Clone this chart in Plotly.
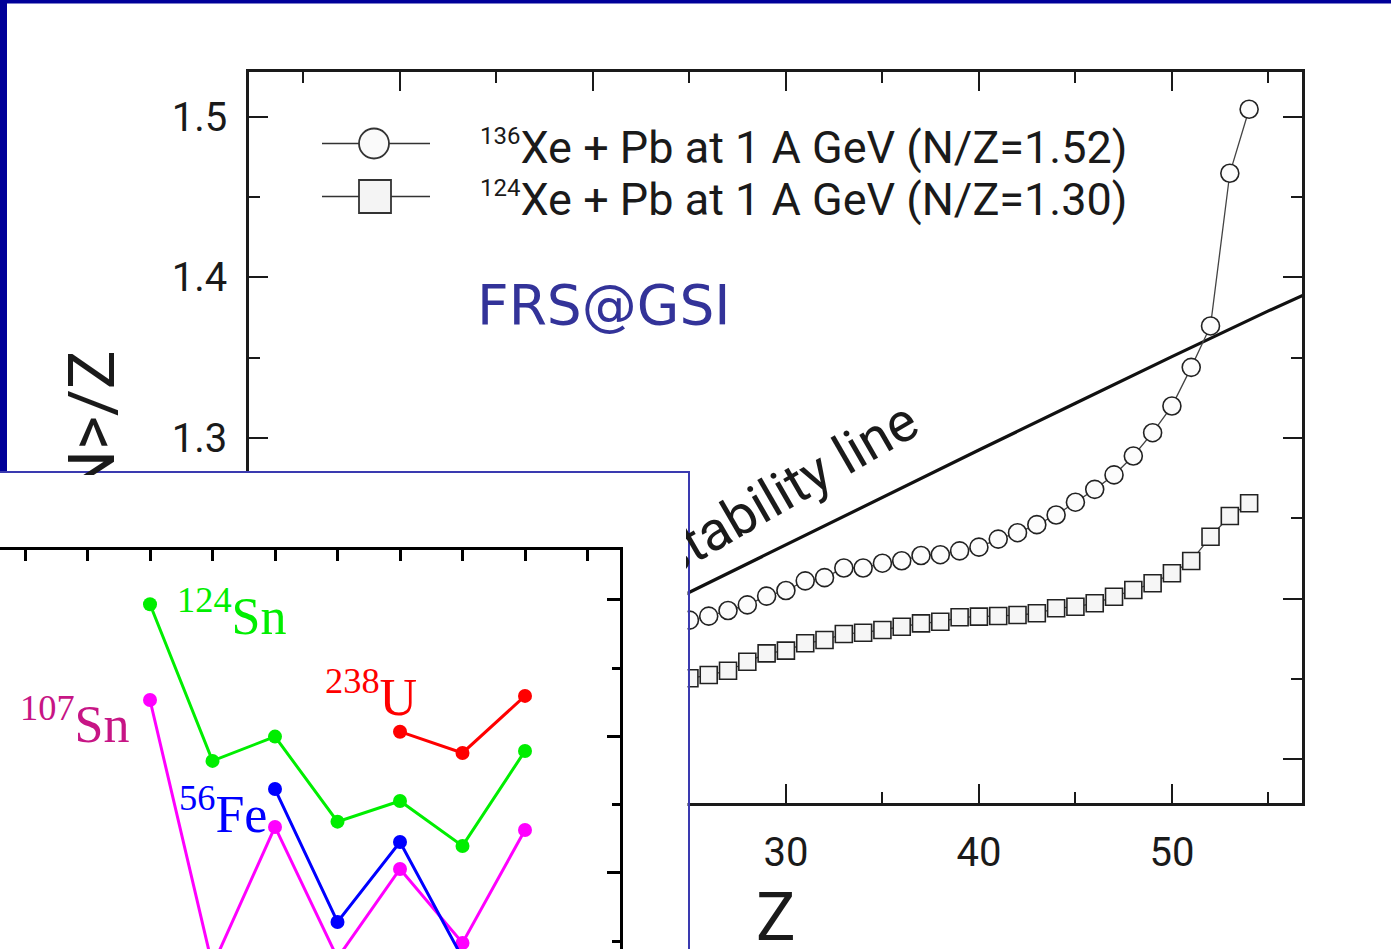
import plotly.graph_objects as go

W, H = 1391, 949

# ---------------- main chart data ----------------
z_xe136 = list(range(25, 55))
nz_xe136 = [1.1865, 1.189, 1.1925, 1.196, 1.2015, 1.205, 1.211, 1.213, 1.219, 1.219,
            1.222, 1.2235, 1.2268, 1.2273, 1.2297, 1.232, 1.237, 1.241, 1.246, 1.252,
            1.260, 1.268, 1.277, 1.2888, 1.3033, 1.3199, 1.344, 1.3698, 1.4649, 1.5048]
z_xe124 = list(range(25, 55))
nz_xe124 = [1.1503, 1.1523, 1.155, 1.1606, 1.1658, 1.1675, 1.1721, 1.1741, 1.1779, 1.1787,
            1.1804, 1.1824, 1.1845, 1.1855, 1.1883, 1.1887, 1.1891, 1.1897, 1.1908, 1.1939,
            1.1949, 1.197, 1.2011, 1.2053, 1.2095, 1.2157, 1.2234, 1.2385, 1.2514, 1.2593]
z_stab = [24, 30, 35, 40, 45, 50, 55, 57]
nz_stab = [1.198, 1.2335, 1.263, 1.2925, 1.3216, 1.3507, 1.3792, 1.390]

# tick labels (those under the inset are not visible in the picture)
x_tickvals = [10, 20, 30, 40, 50]
x_ticktext = ["", "", "30", "40", "50"]
y_tickvals = [1.1, 1.2, 1.3, 1.4, 1.5]
y_ticktext = ["", "", "1.3", "1.4", "1.5"]

legend_labels = ["<sup><span style='font-size:24px'>136</span></sup>Xe + Pb at 1 A GeV (N/Z=1.52)",
                 "<sup><span style='font-size:24px'>124</span></sup>Xe + Pb at 1 A GeV (N/Z=1.30)"]

# ---------------- inset data ----------------
inset_x = [1, 2, 3, 4, 5, 6, 7]
sn124 = [2.969, 1.821, 1.999, 1.376, 1.527, 1.198, 1.894]
sn107 = [2.267, 0.319, 1.337, 0.377, 1.029, 0.487, 1.315]
fe56_x = [3, 4, 5, 6]
fe56 = [1.615, 0.641, 1.227, 0.377]
u238_x = [5, 6, 7]
u238 = [2.035, 1.879, 2.297]


def px(x):
    return x / W


def py(y):
    return 1 - y / H


fig = go.Figure()

# main chart traces
fig.add_trace(go.Scatter(x=z_stab, y=nz_stab, mode="lines",
                         line=dict(color="#111111", width=3.2), hoverinfo="skip"))
fig.add_trace(go.Scatter(x=z_xe136, y=nz_xe136, mode="lines+markers",
                         line=dict(color="#444444", width=1.3),
                         marker=dict(symbol="circle", size=18, color="#fcfcfc",
                                     line=dict(color="#222222", width=1.6)),
                         hoverinfo="skip"))
fig.add_trace(go.Scatter(x=z_xe124, y=nz_xe124, mode="lines+markers",
                         line=dict(color="#444444", width=1.3),
                         marker=dict(symbol="square", size=17, color="#f6f6f6",
                                     line=dict(color="#222222", width=1.6)),
                         hoverinfo="skip"))

# inset frame subplot (empty)
fig.add_trace(go.Scatter(x=[None], y=[None], xaxis="x2", yaxis="y2", hoverinfo="skip"))

# inset traces
def inset_trace(x, y, color):
    return go.Scatter(x=x, y=y, xaxis="x3", yaxis="y3", mode="lines+markers",
                      line=dict(color=color, width=3),
                      marker=dict(symbol="circle", size=14, color=color),
                      hoverinfo="skip")

fig.add_trace(inset_trace(inset_x, sn124, "#00EE00"))
fig.add_trace(inset_trace(inset_x, sn107, "#FF00FF"))
fig.add_trace(inset_trace(fe56_x, fe56, "#0000FF"))
fig.add_trace(inset_trace(u238_x, u238, "#FF0000"))

tickfont = dict(family="Roboto", size=40, color="#1a1a1a")
axcol = "#1a1a1a"

fig.update_layout(
    width=W, height=H, margin=dict(l=0, r=0, t=0, b=0),
    paper_bgcolor="white", plot_bgcolor="white", showlegend=False,
    hovermode=False,
    xaxis=dict(domain=[px(249), px(1302)], range=[2.18, 56.74], anchor="y",
               showline=True, linecolor=axcol, linewidth=2.5, mirror="ticks",
               ticks="inside", ticklen=19, tickwidth=2.2, tickcolor=axcol,
               tickvals=x_tickvals, ticktext=x_ticktext, showgrid=False, zeroline=False,
               minor=dict(ticks="inside", dtick=5, tick0=0, ticklen=11, tickwidth=2.2, tickcolor=axcol),
               tickfont=tickfont, ticklabelstandoff=12),
    yaxis=dict(domain=[py(803), py(72)], range=[1.0726, 1.528], anchor="x",
               showline=True, linecolor=axcol, linewidth=2.5, mirror="ticks",
               ticks="inside", ticklen=19, tickwidth=2.2, tickcolor=axcol,
               tickvals=y_tickvals, ticktext=y_ticktext, showgrid=False, zeroline=False,
               minor=dict(ticks="inside", dtick=0.05, tick0=1.0, ticklen=11, tickwidth=2.2, tickcolor=axcol),
               tickfont=tickfont, ticklabelstandoff=11),
    xaxis2=dict(domain=[0, px(687.5)], range=[0, 1], anchor="y2", side="top",
                showline=True, linecolor="#3a3ab0", linewidth=1.5, ticks="",
                showticklabels=False, showgrid=False, zeroline=False),
    yaxis2=dict(domain=[0, py(473)], range=[0, 1], anchor="x2", side="right",
                showline=True, linecolor="#3a3ab0", linewidth=1.5, ticks="",
                showticklabels=False, showgrid=False, zeroline=False),
    xaxis3=dict(domain=[0, px(620)], range=[-1.4, 8.52], anchor="y3", side="top",
                showline=True, linecolor="black", linewidth=3,
                ticks="inside", ticklen=11, tickwidth=2.5, tickcolor="black",
                tick0=0, dtick=1, showticklabels=False, showgrid=False, zeroline=False),
    yaxis3=dict(domain=[0, py(550)], range=[0.443, 3.366], anchor="x3", side="right",
                showline=True, linecolor="black", linewidth=3,
                ticks="inside", ticklen=13, tickwidth=2.5, tickcolor="black",
                tick0=0, dtick=1, showticklabels=False, showgrid=False, zeroline=False,
                minor=dict(ticks="inside", dtick=0.5, ticklen=8, tickwidth=2.5, tickcolor="black")),
)

shapes = [
    # slide border stripes
    dict(type="rect", xref="paper", yref="paper", x0=0, x1=px(7), y0=py(473), y1=1,
         fillcolor="#000099", line=dict(width=0), layer="below"),
    dict(type="rect", xref="paper", yref="paper", x0=0, x1=1, y0=py(3.5), y1=1,
         fillcolor="#000099", line=dict(width=0), layer="below"),
    # legend samples
    dict(type="line", xref="paper", yref="paper", x0=px(322), x1=px(430), y0=py(143.5), y1=py(143.5),
         line=dict(color="#333333", width=1.6), layer="above"),
    dict(type="circle", xref="paper", yref="paper", x0=px(359), x1=px(389), y0=py(158.5), y1=py(128.5),
         fillcolor="#fafafa", line=dict(color="#333333", width=1.8), layer="above"),
    dict(type="line", xref="paper", yref="paper", x0=px(322), x1=px(430), y0=py(196.5), y1=py(196.5),
         line=dict(color="#333333", width=1.6), layer="above"),
    dict(type="rect", xref="paper", yref="paper", x0=px(359), x1=px(391), y0=py(213), y1=py(180),
         fillcolor="#f4f4f4", line=dict(color="#333333", width=1.8), layer="above"),
]
fig.update_layout(shapes=shapes)

ann = []
# legend texts
ann.append(dict(text=legend_labels[0], x=px(478), y=py(147.5), xanchor="left", yanchor="middle",
                font=dict(family="Roboto", size=45, color="#1a1a1a")))
ann.append(dict(text=legend_labels[1], x=px(478), y=py(199), xanchor="left", yanchor="middle",
                font=dict(family="Roboto", size=45, color="#1a1a1a")))
# FRS@GSI
ann.append(dict(text="FRS@GSI", x=px(475), y=py(305), xanchor="left", yanchor="middle",
                font=dict(family="DejaVu Sans", size=55, color="#333399")))
# stability line label
ann.append(dict(text="stability line", x=px(786), y=py(489), xanchor="center", yanchor="middle",
                textangle=-30, font=dict(family="Roboto", size=55, color="#1a1a1a")))
# axis titles
ann.append(dict(text="&lt;N&gt;/Z", x=px(91), y=py(439.5), xanchor="center", yanchor="middle",
                textangle=-90, font=dict(family="Roboto", size=65, color="#1a1a1a")))
ann.append(dict(text="Z", x=px(776), y=py(917), xanchor="center", yanchor="middle",
                height=56, font=dict(family="Roboto", size=66, color="#1a1a1a")))
# inset labels
serif = "Liberation Serif, Times New Roman, serif"
ann.append(dict(text="<sup>124</sup>Sn", x=px(232), y=py(612), xanchor="center", yanchor="middle",
                font=dict(family=serif, size=52, color="#00EE00")))
ann.append(dict(text="<sup>107</sup>Sn", x=px(74.5), y=py(720), xanchor="center", yanchor="middle",
                font=dict(family=serif, size=52, color="#C71585")))
ann.append(dict(text="<sup>238</sup>U", x=px(371), y=py(693), xanchor="center", yanchor="middle",
                font=dict(family=serif, size=52, color="#FF0000")))
ann.append(dict(text="<sup>56</sup>Fe", x=px(223), y=py(810), xanchor="center", yanchor="middle",
                font=dict(family=serif, size=52, color="#0000FF")))
# white patches: parts of the main-chart texts lying under the inset
ann.append(dict(text=" ", x=px(623), y=py(475), xanchor="left", yanchor="top",
                width=63, height=200, borderpad=0, borderwidth=0, bgcolor="white", showarrow=False))
ann.append(dict(text=" ", x=px(30), y=py(475), xanchor="left", yanchor="top",
                width=120, height=70, borderpad=0, borderwidth=0, bgcolor="white", showarrow=False))
for a in ann:
    a.setdefault("xref", "paper")
    a.setdefault("yref", "paper")
    a.setdefault("showarrow", False)
fig.update_layout(annotations=ann)

fig.write_html("out.html", config={"displayModeBar": False},
               post_script="document.body.style.margin='0';document.body.style.overflow='hidden';")
